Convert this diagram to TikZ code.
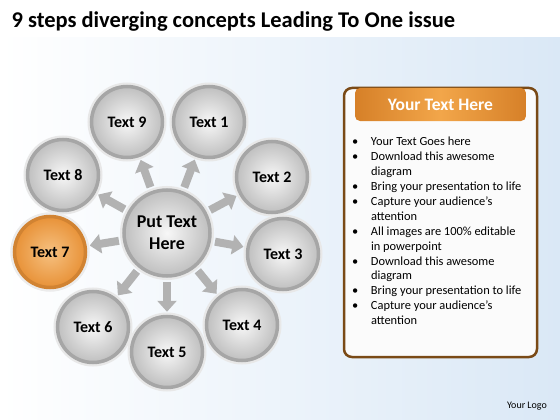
\documentclass[tikz,border=0pt]{standalone}
\usepackage{fontspec}
\setmainfont{Carlito}
\usetikzlibrary{positioning}
\usetikzlibrary{arrows.meta}
\usetikzlibrary{calc}

\definecolor{PanelBrown}{RGB}{122,74,22}
\definecolor{HeadOrange}{RGB}{214,128,40}
\definecolor{HeadLight}{RGB}{242,166,74}
\definecolor{BallOrange}{RGB}{232,146,56}
\definecolor{SkyBlue}{RGB}{218,232,246}

\tikzset{
  ball/.style={circle, minimum size=71pt, inner sep=0pt, draw=gray!70, line width=3.5pt,
    inner color=gray!6, outer color=gray!50,
    preaction={draw=gray!18, line width=8pt},
    font=\fontsize{16}{16}\selectfont\bfseries},
  hotball/.style={ball, draw=BallOrange!90!black, inner color=HeadLight!70!white, outer color=BallOrange,
    preaction={draw=gray!15, line width=8pt}},
  hubball/.style={ball, minimum size=86pt, font=\fontsize{18}{22}\selectfont\bfseries},
  fatarrow/.style={draw=gray!60, line width=8pt,
    -{Triangle[width=19pt,length=11pt]},
    shorten <=4pt, shorten >=3pt}
}

\begin{document}
\begin{tikzpicture}[x=1pt,y=-1pt]
\useasboundingbox (0,0) rectangle (560,420);
%background
\shade[left color=white, right color=SkyBlue] (0,38) rectangle (560,420);

\node[anchor=west, font=\fontsize{22.5}{22.5}\selectfont\bfseries] (title) at (8,22)
  {9 steps diverging concepts Leading To One issue};

%the wheel
\node[hubball, align=center] (hub) at (167,233) {Put Text\\Here};

\foreach \i/\x/\y in {1/209/122, 2/272/177, 3/283/254, 4/242/325, 5/167/352,
                      6/93/327, 8/63/175, 9/127/122}
  \node[ball] (t\i) at (\x,\y) {Text \i};
\node[hotball] (t7) at (50,252) {Text 7};

\foreach \i in {1,...,9}
  \draw[fatarrow] (hub) -- (t\i);

%text panel
\node[draw=PanelBrown, line width=2.5pt, fill=white!97!gray, rounded corners=8pt,
  minimum width=193pt, minimum height=269pt] (panel) at (440.5,222.5) {};
\node[rounded corners=5pt, left color=HeadOrange, right color=HeadOrange, middle color=HeadLight,
  minimum width=171pt, minimum height=33pt, text=white,
  font=\fontsize{17.5}{17.5}\selectfont\bfseries] (head) at (440.5,104.5) {Your Text Here};

\node[below right=14pt and -3pt of head.south west, inner sep=0pt,
  font=\fontsize{12.4}{14.9}\selectfont] (items) {%
  \begin{tabular}{@{}p{19pt}@{}l@{}}
  \textbullet & Your Text Goes here\\
  \textbullet & Download this awesome\\
              & diagram\\
  \textbullet & Bring your presentation to life\\
  \textbullet & Capture your audience’s\\
              & attention\\
  \textbullet & All images are 100\% editable\\
              & in powerpoint\\
  \textbullet & Download this awesome\\
              & diagram\\
  \textbullet & Bring your presentation to life\\
  \textbullet & Capture your audience’s\\
              & attention
  \end{tabular}};

\node[font=\fontsize{10}{10}\selectfont] (logo) at (527,406) {Your Logo};
\end{tikzpicture}
\end{document}
